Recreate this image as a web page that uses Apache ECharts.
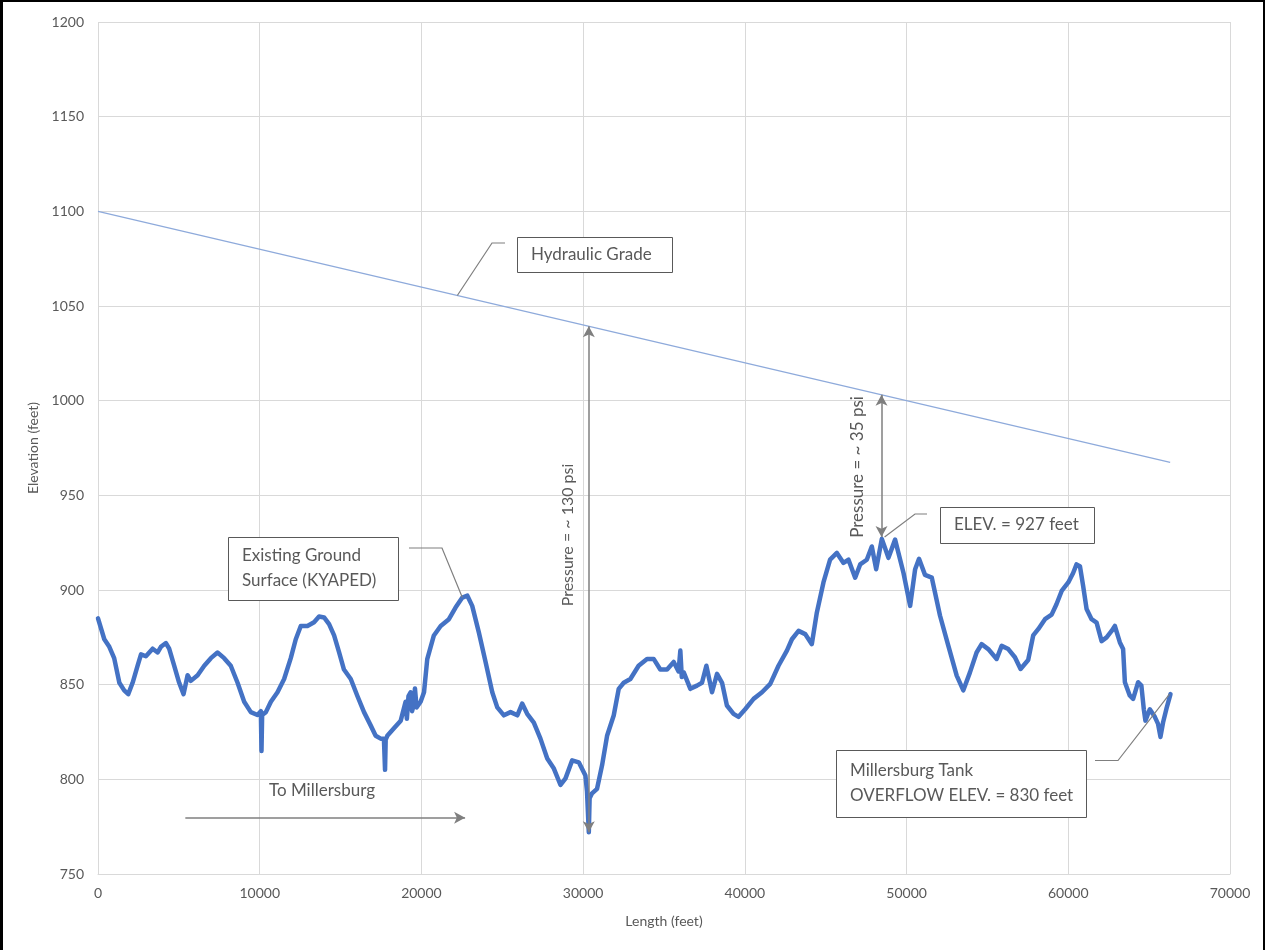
<!DOCTYPE html>
<html>
<head>
<meta charset="utf-8">
<title>Elevation profile – Millersburg line</title>
<script src="https://cdn.jsdelivr.net/npm/echarts@6/dist/echarts.min.js"></script>
<style>
  html, body { margin: 0; padding: 0; background: #fff; }
  #frame {
    position: absolute; left: 0; top: 0; width: 1265px; height: 950px;
    box-sizing: border-box; border-top: 2px solid #000; border-left: 3px solid #000; border-right: 2px solid #000;
  }
  #chart { position: absolute; left: 0; top: 0; width: 1265px; height: 950px; }
</style>
</head>
<body>
<div id="chart"></div>
<div id="frame"></div>
<script>
// Ground profile along the route: station (feet) and ground elevation (feet)
const groundStation = [
  0, 390, 700, 1000, 1320, 1620, 1870, 2140, 2450, 2660, 2960, 3380, 3690, 3890, 4200, 4400,
  4710, 5020, 5290, 5540, 5740, 6160, 6570, 6980, 7390, 7800, 8210, 8630, 9040, 9450, 9860,
  10070, 10110, 10150, 10380, 10690, 11100, 11510, 11920, 12230, 12540, 12950, 13360, 13670,
  13980, 14290, 14600, 14910, 15210, 15630, 16040, 16450, 16860, 17170, 17480, 17680, 17750,
  17790, 17890, 18300, 18720, 19020, 19100, 19200, 19330, 19420, 19520, 19600, 19700, 19950,
  20160, 20360, 20770, 21190, 21700, 22110, 22530, 22840, 23140, 23550, 23970, 24380, 24690,
  25100, 25510, 25930, 26230, 26540, 26950, 27360, 27780, 28190, 28600, 28910, 29320, 29730,
  30140, 30240, 30350, 30400, 30550, 30860, 31170, 31480, 31890, 32200, 32510, 32920, 33430,
  33950, 34360, 34770, 35190, 35600, 35900, 36010, 36100, 36220, 36630, 37040, 37350, 37620,
  37970, 38280, 38590, 38890, 39300, 39610, 40020, 40540, 41060, 41570, 42080, 42600, 42910,
  43320, 43730, 44140, 44450, 44860, 45270, 45690, 46100, 46410, 46820, 47130, 47540, 47850,
  48120, 48470, 48880, 49290, 49810, 50220, 50530, 50770, 51140, 51560, 52070, 52580, 53100,
  53510, 53920, 54330, 54640, 55050, 55570, 55880, 56290, 56700, 57050, 57520, 57830, 58140,
  58560, 58970, 59270, 59590, 60000, 60300, 60510, 60720, 60920, 61130, 61440, 61750, 62060,
  62370, 62680, 62880, 63190, 63390, 63500, 63800, 64010, 64320, 64520, 64670, 64770, 65040,
  65350, 65550, 65700, 65860, 66070, 66320
];
const groundElev = [
  885, 874, 870, 864, 851, 847, 845, 851, 860, 866, 865, 869, 867, 870, 872, 869,
  860, 851, 845, 855, 852, 855, 860, 864, 867, 864, 860, 851, 841, 835.5, 834,
  836, 815, 834, 835.5, 841, 846, 853, 864, 874, 881, 881, 883, 886,
  885.5, 882, 876, 867, 858, 853, 844, 835.5, 828.5, 823, 821.5, 821.5, 805,
  821, 823, 827, 831, 841, 832, 844, 846, 836, 839, 848, 838, 841,
  846, 863.5, 876, 881, 884.6, 890.7, 896, 897, 891.6, 877.6, 861.8, 846, 838,
  833.8, 835.5, 833.8, 840, 834.6, 830, 821.5, 811, 805.7, 797, 800.5, 810, 809,
  802, 793.5, 772, 790, 792.6, 795, 807.4, 823, 833.7, 847.8, 851, 853, 860,
  863.6, 863.6, 858, 858, 862, 857, 868, 854, 856.5, 847.8, 849.5, 851, 860,
  846, 855.7, 851, 839, 834.6, 833, 837, 842.5, 846, 850.4, 860, 868, 874,
  878.4, 876.7, 871.4, 888, 904, 916, 919.6, 914.3, 916, 906.5, 913.5, 916, 923,
  911, 927, 917, 926.6, 909, 891.6, 911, 916.5, 908, 906.5, 886.4, 870.6, 854.8,
  847, 856.5, 867, 871.4, 868.8, 863.6, 870.5, 868.8, 864.5, 858.3, 863, 876, 879.3,
  884.6, 887, 892.5, 899.5, 904, 909, 913.5, 912.6, 902, 890, 884.6, 882.8, 873,
  875, 878.4, 881, 872.3, 868.8, 851.3, 844.3, 842.5, 851.3, 849.5, 837, 831, 837,
  833, 829.3, 822.4, 830, 837.3, 845
];

// Hydraulic grade line end points
const gradeStation = [0, 66300];
const gradeElev = [1100, 967.4];

// Axis ranges and ticks
const xTicks = { min: 0, max: 70000, step: 10000 };
const yTicks = { min: 750, max: 1200, step: 50 };

// Pressure spans: from the hydraulic grade down to the ground
const pressureStation = [30350, 48450];
const pressureTop = [1039.3, 1003.1];
const pressureBottom = [772, 928];
const pressureLabel = ['Pressure = ~ 130 psi', 'Pressure = ~ 35 psi'];

// Flow direction arrow
const flowFrom = [5400, 779.7];
const flowTo = [22700, 779.7];

const TEXT = '#595959';
const FONT = 'Lato, "Open Sans", sans-serif';

const chart = echarts.init(document.getElementById('chart'), null, { renderer: 'canvas' });

const groundData = groundStation.map((s, i) => [s, groundElev[i]]);
const gradeData = gradeStation.map((s, i) => [s, gradeElev[i]]);

const arrowLines = pressureStation.map((s, i) => [
  { coord: [s, pressureTop[i]], symbol: 'arrow' },
  { coord: [s, pressureBottom[i]], symbol: 'arrow' }
]);
arrowLines.push([
  { coord: flowFrom, symbol: 'none' },
  { coord: flowTo, symbol: 'arrow' }
]);

const plain = v => String(v);

chart.setOption({
  animation: false,
  backgroundColor: '#fff',
  textStyle: { fontFamily: FONT },
  grid: { left: 98, right: 35, top: 22, bottom: 76 },
  xAxis: {
    type: 'value', min: xTicks.min, max: xTicks.max, interval: xTicks.step,
    name: 'Length (feet)', nameLocation: 'middle', nameGap: 40,
    nameTextStyle: { color: TEXT, fontSize: 14, fontFamily: FONT },
    axisLine: { show: true, lineStyle: { color: '#d9d9d9', width: 1 } },
    axisTick: { show: false },
    axisLabel: { color: TEXT, fontSize: 14, margin: 12, fontFamily: FONT, formatter: plain },
    splitLine: { show: true, lineStyle: { color: '#d9d9d9', width: 1 } }
  },
  yAxis: {
    type: 'value', min: yTicks.min, max: yTicks.max, interval: yTicks.step,
    name: 'Elevation (feet)', nameLocation: 'middle', nameGap: 53, nameRotate: 90,
    nameTextStyle: { color: TEXT, fontSize: 14, fontFamily: FONT },
    axisLine: { show: false },
    axisTick: { show: false },
    axisLabel: { color: TEXT, fontSize: 14, margin: 14, fontFamily: FONT, formatter: plain },
    splitLine: { show: true, lineStyle: { color: '#d9d9d9', width: 1 } }
  },
  series: [
    {
      name: 'Hydraulic Grade', type: 'line', data: gradeData,
      showSymbol: false, silent: true,
      lineStyle: { color: '#8eaadb', width: 1.2 }
    },
    {
      name: 'Existing Ground Surface', type: 'line', data: groundData,
      showSymbol: false, silent: true,
      lineStyle: { color: '#4472c4', width: 4.5, join: 'round', cap: 'round' },
      markLine: {
        silent: true, animation: false,
        symbolSize: [9, 11],
        label: { show: false },
        lineStyle: { color: '#7f7f7f', width: 1.5, type: 'solid' },
        emphasis: { disabled: true },
        data: arrowLines
      }
    }
  ]
});

// Callout boxes, leader lines and rotated pressure labels
function px(pt) { return chart.convertToPixel({ gridIndex: 0 }, pt); }
function gradeAt(s) {
  return gradeElev[0] + (gradeElev[1] - gradeElev[0]) * (s - gradeStation[0]) / (gradeStation[1] - gradeStation[0]);
}

const callouts = [
  { lines: ['Hydraulic Grade'], box: [517, 237, 155, 35],
    leader: [[505, 243], [492, 243]], target: [22220, gradeAt(22220)] },
  { lines: ['Existing Ground', 'Surface (KYAPED)'], box: [228, 537, 170, 63],
    leader: [[409, 548], [442, 548]], target: [22530, 896] },
  { lines: ['ELEV. = 927 feet'], box: [940, 507, 154, 36],
    leader: [[927, 514], [915, 514]], target: [48640, 928] },
  { lines: ['Millersburg Tank', 'OVERFLOW ELEV. = 830 feet'], box: [836, 750, 250, 67],
    leader: [[1095, 760.5], [1118, 760.5]], target: [66260, 845] }
];

const g = [];
callouts.forEach(c => {
  const [x, y, w, h] = c.box;
  g.push({
    type: 'rect', shape: { x: x + 0.5, y: y + 0.5, width: w, height: h },
    style: { fill: '#fff', stroke: '#595959', lineWidth: 1 }, z: 100
  });
  const lh = 25;
  const y0 = y + h / 2 - (c.lines.length - 1) * lh / 2;
  c.lines.forEach((t, i) => {
    g.push({
      type: 'text', x: x + 14, y: y0 + i * lh, z: 101,
      style: { text: t, fill: TEXT, font: '17px ' + FONT, textAlign: 'left', textVerticalAlign: 'middle' }
    });
  });
  const end = px(c.target);
  g.push({
    type: 'polyline', z: 99,
    shape: { points: c.leader.concat([end]) },
    style: { stroke: '#7f7f7f', lineWidth: 1.2, fill: null }
  });
});

// "To Millersburg" label above the flow arrow
const flowMid = px([(flowFrom[0] + flowTo[0]) / 2, flowFrom[1]]);
g.push({
  type: 'text', x: 322, y: flowMid[1] - 27, z: 101,
  style: { text: 'To Millersburg', fill: TEXT, font: '17px ' + FONT, textAlign: 'center', textVerticalAlign: 'middle' }
});

// Pressure labels, rotated alongside each arrow
const labelOffset = [[-21, 535], [-24, 467]];
const labelSize = [16, 17];
pressureStation.forEach((s, i) => {
  const top = px([s, pressureTop[i]]);
  g.push({
    type: 'text', x: top[0] + labelOffset[i][0], y: labelOffset[i][1], rotation: Math.PI / 2, z: 101,
    style: { text: pressureLabel[i], fill: TEXT, font: labelSize[i] + 'px ' + FONT, textAlign: 'center', textVerticalAlign: 'middle' }
  });
});

chart.setOption({ graphic: g });
</script>
</body>
</html>
